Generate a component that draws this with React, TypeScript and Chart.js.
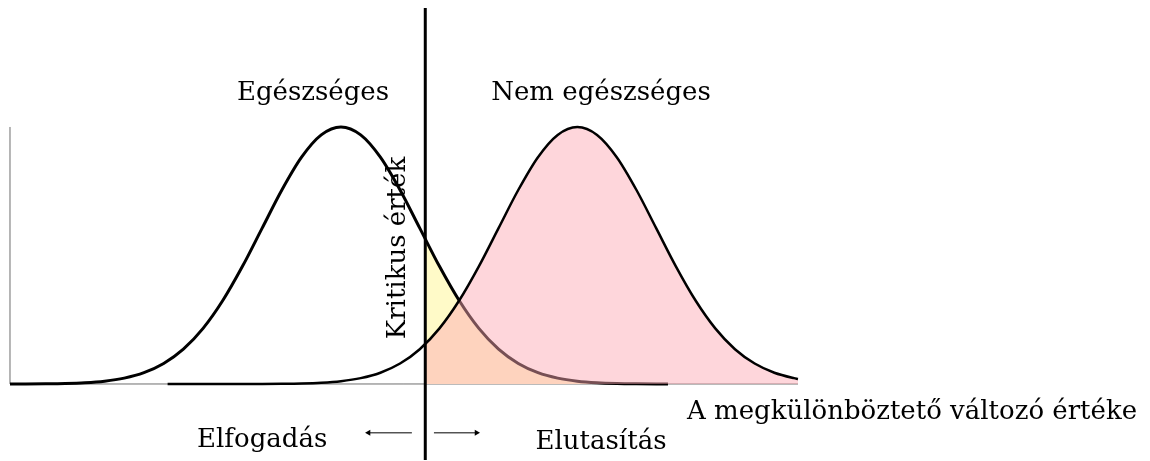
import React, { useEffect, useRef } from 'react';
import { Chart, registerables } from 'chart.js';

Chart.register(...registerables);

// Healthy (Egészséges) density curve (peak normalised to 1)
const healthyX = [0, 0.2, 0.45, 0.7, 0.95, 1.2, 1.45, 1.7, 1.95, 2.2, 2.45, 2.7, 2.95, 3.2, 3.45, 3.7, 3.95, 4.2, 4.45, 4.7, 4.95, 5.2, 5.45, 5.7, 5.95, 6.2, 6.45, 6.7, 6.95, 7.2, 7.45, 7.7, 7.95, 8.2, 8.35];
const healthyY = [0.0001, 0.0003, 0.0009, 0.0022, 0.0051, 0.0111, 0.0228, 0.0439, 0.0796, 0.1353, 0.2163, 0.3247, 0.4578, 0.6065, 0.7548, 0.8825, 0.9692, 1.0, 0.9692, 0.8825, 0.7548, 0.6065, 0.4578, 0.3247, 0.2163, 0.1353, 0.0796, 0.0439, 0.0228, 0.0111, 0.0051, 0.0022, 0.0009, 0.0003, 0.0002];

// Unhealthy (Nem egészséges) density curve
const unhealthyX = [2.0, 2.7, 3.2, 3.45, 3.7, 3.95, 4.2, 4.45, 4.7, 4.95, 5.2, 5.45, 5.7, 5.95, 6.2, 6.45, 6.7, 6.95, 7.2, 7.45, 7.7, 7.95, 8.2, 8.45, 8.7, 8.95, 9.2, 9.45, 9.7, 9.95, 10.0];
const unhealthyY = [0.0, 0.0, 0.0003, 0.0009, 0.0022, 0.0051, 0.0111, 0.0228, 0.0439, 0.0796, 0.1353, 0.2163, 0.3247, 0.4578, 0.6065, 0.7548, 0.8825, 0.9692, 1.0, 0.9692, 0.8825, 0.7548, 0.6065, 0.4578, 0.3247, 0.2163, 0.1353, 0.0796, 0.0439, 0.0228, 0.0198];

// Critical value and curve heights there
const criticalValue = 5.27;
const healthyAtCritical = 0.565;
const unhealthyAtCritical = 0.153;

// Axes and guide lines (data units)
const xAxisRange = [0, 10];
const yAxisRange = [0, 1];
const criticalLineY = [-0.296, 1.463];
const arrowY = -0.19;
const leftArrowX = [5.1, 4.55];
const rightArrowX = [5.38, 5.92];

// Texts
const labelTexts = ['Egészséges', 'Nem egészséges', 'Kritikus érték', 'A megkülönböztető változó értéke', 'Elfogadás', 'Elutasítás'];

// Text anchors (layout, data units): baseline centre
const labelAnchors = [
  { x: 3.845, y: 1.105, rot: 0 },
  { x: 7.5, y: 1.105, rot: 0 },
  { x: 5.01, y: 0.529, rot: -Math.PI / 2 },
  { x: 11.447, y: -0.136, rot: 0 },
  { x: 3.2, y: -0.245, rot: 0 },
  { x: 7.5, y: -0.253, rot: 0 },
];

const pts = (xs: number[], ys: number[]) => xs.map((x, i) => ({ x, y: ys[i] }));

const textPlugin = {
  id: 'texts',
  afterDatasetsDraw(chart: any) {
    const { ctx, scales } = chart;
    ctx.save();
    ctx.fillStyle = '#000';
    ctx.font = '26px "DejaVu Serif"';
    ctx.textAlign = 'center';
    ctx.textBaseline = 'alphabetic';
    labelTexts.forEach((t, i) => {
      const a = labelAnchors[i];
      ctx.save();
      ctx.translate(scales.x.getPixelForValue(a.x), scales.y.getPixelForValue(a.y));
      if (a.rot) ctx.rotate(a.rot);
      ctx.fillText(t, 0, 0);
      ctx.restore();
    });
    ctx.restore();
  },
};

export default function App() {
  const ref = useRef<HTMLCanvasElement | null>(null);
  useEffect(() => {
    if (!ref.current) return;
    const healthy = pts(healthyX, healthyY);
    const unhealthy = pts(unhealthyX, unhealthyY);
    const yellowFill = [{ x: criticalValue, y: healthyAtCritical }, ...healthy.filter((p) => p.x > criticalValue)];
    const pinkFill = [{ x: criticalValue, y: unhealthyAtCritical }, ...unhealthy.filter((p) => p.x > criticalValue)];
    const straight = { tension: 0, pointRadius: 0, fill: false };
    const chart = new Chart(ref.current, {
      type: 'line',
      data: {
        datasets: [
          { ...straight, data: [{ x: xAxisRange[0], y: 0 }, { x: xAxisRange[1], y: 0 }], borderColor: '#6e6e6e', borderWidth: 1, order: 20 },
          { ...straight, data: [{ x: 0, y: yAxisRange[0] }, { x: 0, y: yAxisRange[1] }], borderColor: '#6e6e6e', borderWidth: 1, order: 19 },
          { data: yellowFill, borderWidth: 0, borderColor: 'rgba(0,0,0,0)', backgroundColor: 'rgb(255,250,200)', fill: 'origin', pointRadius: 0, cubicInterpolationMode: 'monotone', order: 9 },
          { data: healthy, borderColor: '#000', borderWidth: 3, pointRadius: 0, fill: false, cubicInterpolationMode: 'monotone', order: 8 },
          { data: pinkFill, borderWidth: 0, borderColor: 'rgba(0,0,0,0)', backgroundColor: 'rgba(252,168,178,0.47)', fill: 'origin', pointRadius: 0, cubicInterpolationMode: 'monotone', order: 7 },
          { data: unhealthy, borderColor: '#000', borderWidth: 2.5, pointRadius: 0, fill: false, cubicInterpolationMode: 'monotone', order: 6 },
          { ...straight, data: [{ x: criticalValue, y: criticalLineY[0] }, { x: criticalValue, y: criticalLineY[1] }], borderColor: '#000', borderWidth: 3, order: 5 },
          { ...straight, data: [{ x: leftArrowX[0], y: arrowY }, { x: leftArrowX[1], y: arrowY }], borderColor: '#000', borderWidth: 1, pointRadius: [0, 3.5], pointStyle: 'triangle', rotation: -90, pointBackgroundColor: '#000', pointBorderColor: '#000', pointBorderWidth: 0, order: 4 },
          { ...straight, data: [{ x: rightArrowX[0], y: arrowY }, { x: rightArrowX[1], y: arrowY }], borderColor: '#000', borderWidth: 1, pointRadius: [0, 3.5], pointStyle: 'triangle', rotation: 90, pointBackgroundColor: '#000', pointBorderColor: '#000', pointBorderWidth: 0, order: 3 },
        ] as any,
      },
      options: {
        animation: false,
        responsive: false,
        devicePixelRatio: 1,
        events: [],
        layout: { padding: 0, autoPadding: false },
        plugins: { legend: { display: false }, tooltip: { enabled: false } },
        scales: {
          x: { type: 'linear', min: -0.1269, max: 14.467, display: false },
          y: { type: 'linear', min: -0.2996, max: 1.494, display: false },
        },
      } as any,
      plugins: [textPlugin],
    });
    return () => chart.destroy();
  }, []);
  return (
    <div style={{ position: 'fixed', left: 0, top: 0, width: 1150, height: 461, background: '#fff' }}>
      <canvas ref={ref} width={1150} height={461} style={{ display: 'block' }} />
    </div>
  );
}
